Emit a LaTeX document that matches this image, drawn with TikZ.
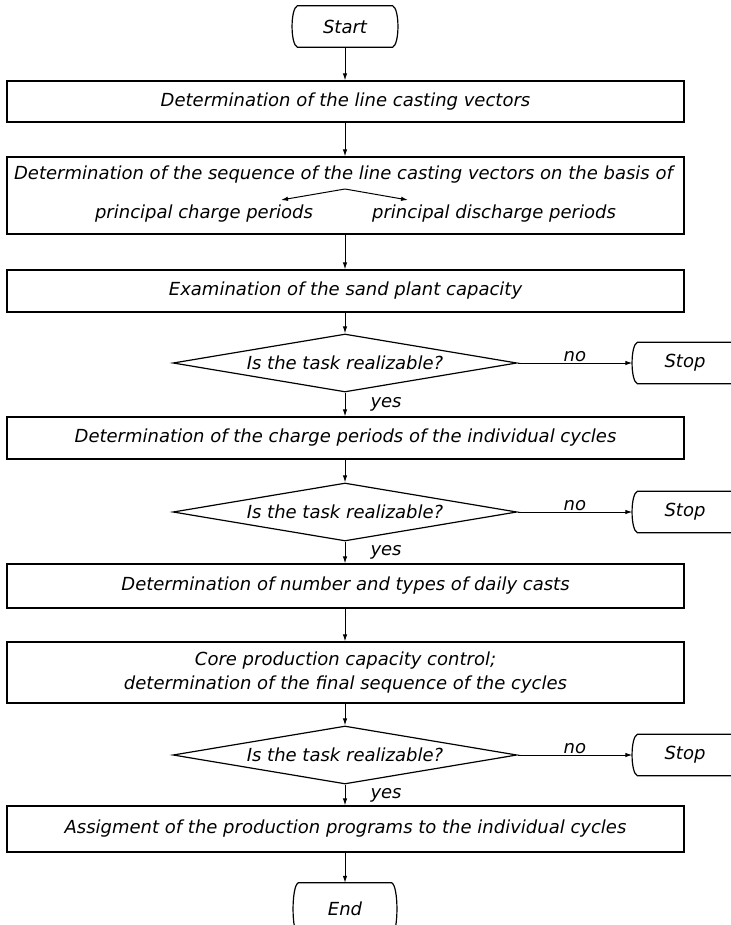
\documentclass[tikz,border=0pt]{standalone}
\usepackage{fontspec}
\setmainfont{DejaVu Sans}
\usetikzlibrary{shapes.geometric,arrows.meta}

\begin{document}
\begin{tikzpicture}[
    x=1pt, y=-1pt,  % on travaille en pixels, y vers le bas
    every node/.style={font=\itshape\fontsize{18}{24}\selectfont},
    box/.style={draw, line width=1.2pt, minimum width=677, inner sep=0pt, align=center},
    term/.style={minimum width=95, minimum height=41, inner sep=0pt},
    test/.style={draw, diamond, aspect=5.9, line width=1.2pt, minimum width=344, minimum height=58, inner sep=0pt},
    arr/.style={line width=1pt, -{Latex[length=7pt,width=4.5pt]}},
    lab/.style={inner sep=1pt}
]
\useasboundingbox (0,0) rectangle (730,925);

% Blocs
\node[term] (start) at (345,26.5) {Start};
\node[box, minimum height=41] (vectors) at (345.5,101.5) {Determination of the line casting vectors};
\node[box, minimum height=77] (sequence) at (345.5,195.5) {};
\node (seqtext) at (343.5,175) {Determination of the sequence of the line casting vectors on the basis of};
\node (charge) at (204,214) {principal charge periods};
\node (discharge) at (494,214) {principal discharge periods};
\coordinate (fork) at (345,189);
\coordinate (tipL) at (281,200);
\coordinate (tipR) at (408,200);
\node[box, minimum height=42] (sand) at (345.5,291) {Examination of the sand plant capacity};
\node[test] (test1) at (345,363) {Is the task realizable?};
\node[term] (stop1) at (685,363) {Stop};
\node[box, minimum height=42] (cycles) at (345.5,438) {Determination of the charge periods of the individual cycles};
\node[test] (test2) at (345,512) {Is the task realizable?};
\node[term] (stop2) at (685,512) {Stop};
\node[box, minimum height=44] (casts) at (345.5,586) {Determination of number and types of daily casts};
\node[box, minimum height=61] (core) at (345.5,672.5) {Core production capacity control;\\determination of the final sequence of the cycles};
\node[test] (test3) at (345,755) {Is the task realizable?};
\node[term] (stop3) at (685,755) {Stop};
\node[box, minimum height=46] (assign) at (345.5,829) {Assigment of the production programs to the individual cycles};
\node[term, minimum width=93, minimum height=52] (finish) at (345,909) {End};

% Contours des terminaux
\foreach \t in {start,stop1,stop2,stop3,finish}
    \draw[line width=1.2pt] (\t.north west) .. controls +(-7,3) and +(-7,-3) .. (\t.south west)
        -- (\t.south east) .. controls +(7,-3) and +(7,3) .. (\t.north east) -- cycle;

% Liaisons
\draw[arr] (start) -- (vectors.north -| start);
\draw[arr] (vectors.south -| start) -- (sequence.north -| start);
\draw[arr] (fork) -- (tipL);
\draw[arr] (fork) -- (tipR);
\draw[arr] (sequence.south -| start) -- (sand.north -| start);
\draw[arr] (sand.south -| start) -- (test1.north);
\draw[arr] (test1.east) -- node[above, lab] {no} ([xshift=-5pt]stop1.west);
\draw[arr] (test1.south) -- node[right=24pt, lab] {yes} (cycles.north -| start);
\draw[arr] (cycles.south -| start) -- (test2.north);
\draw[arr] (test2.east) -- node[above, lab] {no} ([xshift=-5pt]stop2.west);
\draw[arr] (test2.south) -- node[right=24pt, lab] {yes} (casts.north -| start);
\draw[arr] (casts.south -| start) -- (core.north -| start);
\draw[arr] (core.south -| start) -- (test3.north);
\draw[arr] (test3.east) -- node[above, lab] {no} ([xshift=-5pt]stop3.west);
\draw[arr] (test3.south) -- node[right=24pt, lab] {yes} (assign.north -| start);
\draw[arr] (assign.south -| start) -- (finish.north);
\end{tikzpicture}
\end{document}
